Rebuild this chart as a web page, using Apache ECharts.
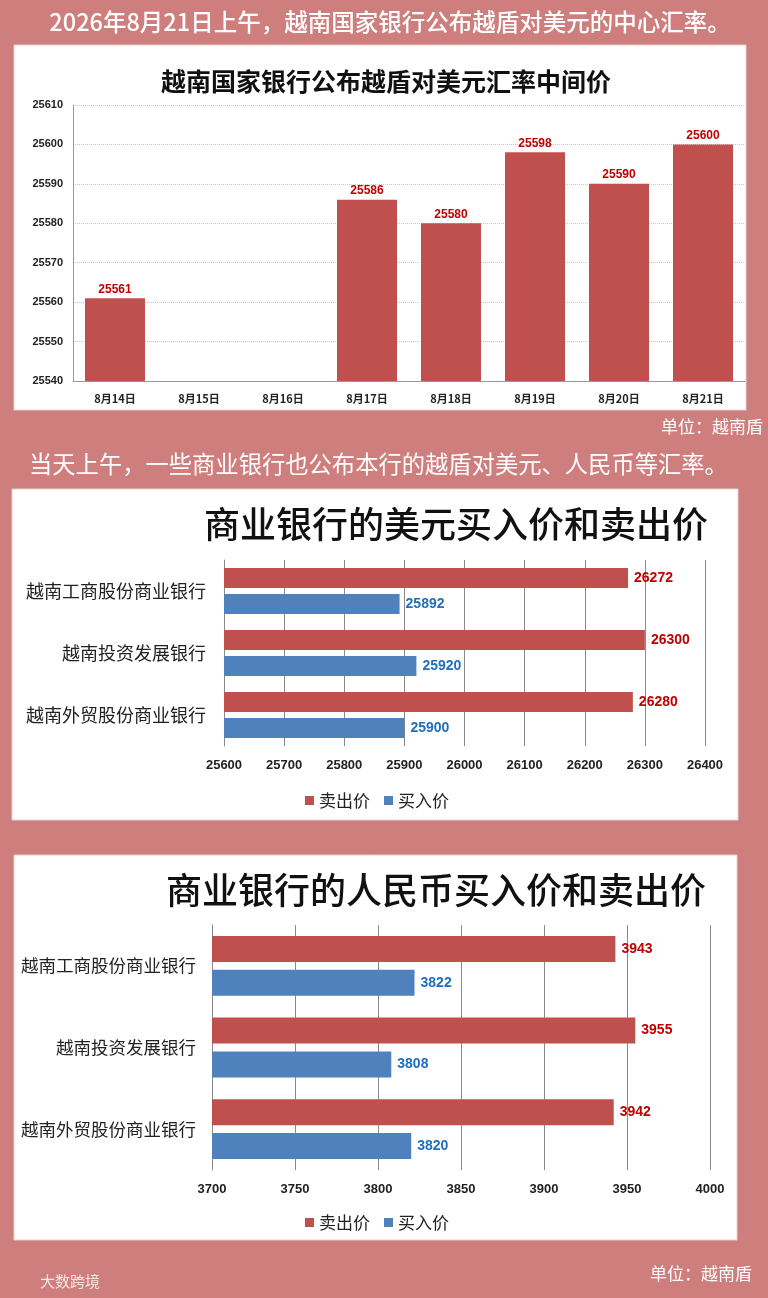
<!DOCTYPE html>
<html>
<head>
<meta charset="utf-8">
<script src="https://cdn.jsdelivr.net/npm/echarts@6/dist/echarts.min.js"></script>
<style>
  html, body { margin: 0; padding: 0; background: #cf7e7e; }
  #main { width: 768px; height: 1298px; }
</style>
</head>
<body>
<div id="main"></div>
<script>
// 越南国家银行 中间价
var days = ['8月14日', '8月15日', '8月16日', '8月17日', '8月18日', '8月19日', '8月20日', '8月21日'];
var midRate = [25561, '-', '-', 25586, 25580, 25598, 25590, 25600];

// 商业银行
var banks = ['越南工商股份商业银行', '越南投资发展银行', '越南外贸股份商业银行'];
var usdSell = [26272, 26300, 26280];
var usdBuy = [25892, 25920, 25900];
var cnySell = [3943, 3955, 3942];
var cnyBuy = [3822, 3808, 3820];

var RED = '#c0504d', BLUE = '#4f81bd';
var CJK = '"Noto Sans CJK SC", sans-serif';
var NUM = '"Liberation Sans Narrow", "Liberation Sans", sans-serif';

var dom = document.getElementById('main');
var myChart = echarts.init(dom);

function panel(x, y, w, h) {
    return {
        type: 'rect', z: -10,
        shape: { x: x, y: y, width: w, height: h },
        style: { fill: '#fff', stroke: '#e8d0d0', lineWidth: 1 }
    };
}
function txt(x, y, s, size, color, align, weight) {
    return {
        type: 'text', z: 10, x: x, y: y,
        style: {
            text: s, fill: color, font: (weight || 'normal') + ' ' + size + 'px ' + CJK,
            textAlign: align || 'left', textVerticalAlign: 'middle'
        }
    };
}
function plain(v) { return String(v); }

function barLabel(color) {
    return {
        show: true, position: 'right', distance: 6,
        color: color, fontFamily: NUM, fontWeight: 'bold', fontSize: 14
    };
}

var option = {
    animation: false,
    graphic: [
        panel(14, 45, 732, 365),
        panel(12, 489, 726, 331),
        panel(14, 855, 723, 385),
        txt(390, 22, '2026年8月21日上午，越南国家银行公布越盾对美元的中心汇率。', 23.5, '#fff', 'center', '500'),
        txt(386, 81, '越南国家银行公布越盾对美元汇率中间价', 25, '#111', 'center', 'bold'),
        txt(763, 427, '单位：越南盾', 17, '#fff', 'right'),
        txt(29, 464, '当天上午，一些商业银行也公布本行的越盾对美元、人民币等汇率。', 23.3, '#fff', 'left'),
        txt(456, 524, '商业银行的美元买入价和卖出价', 36, '#111', 'center', '500'),
        txt(436, 890, '商业银行的人民币买入价和卖出价', 36, '#111', 'center', '500'),
        txt(752, 1274, '单位：越南盾', 17, '#fff', 'right'),
        txt(40, 1281, '大数跨境', 15, 'rgba(255,255,255,0.8)', 'left')
    ],
    grid: [
        { left: 73, right: 23, top: 105, bottom: 1298 - 381 },
        { left: 224, right: 768 - 705, top: 560, bottom: 1298 - 746 },
        { left: 212, right: 768 - 710, top: 925, bottom: 1298 - 1170 }
    ],
    legend: [
        {
            data: ['卖出价', '买入价'], left: 300, top: 787, icon: 'rect',
            itemWidth: 9, itemHeight: 9, itemGap: 14,
            textStyle: { fontFamily: CJK, fontSize: 17, color: '#222' }
        },
        {
            data: ['卖出价', '买入价'], left: 300, top: 1209, icon: 'rect',
            itemWidth: 9, itemHeight: 9, itemGap: 14,
            textStyle: { fontFamily: CJK, fontSize: 17, color: '#222' }
        }
    ],
    xAxis: [
        {
            gridIndex: 0, type: 'category', data: days,
            axisLine: { lineStyle: { color: '#999' } },
            axisTick: { show: false },
            axisLabel: { color: '#222', fontSize: 11, fontFamily: CJK, fontWeight: 'bold', margin: 12 }
        },
        {
            gridIndex: 1, type: 'value', min: 25600, max: 26400, interval: 100,
            axisLine: { show: false }, axisTick: { show: false },
            splitLine: { lineStyle: { color: '#8a8a8a', width: 1 } },
            axisLabel: { color: '#222', fontSize: 13, fontFamily: NUM, fontWeight: 'bold', margin: 13, formatter: plain }
        },
        {
            gridIndex: 2, type: 'value', min: 3700, max: 4000, interval: 50,
            axisLine: { show: false }, axisTick: { show: false },
            splitLine: { lineStyle: { color: '#8a8a8a', width: 1 } },
            axisLabel: { color: '#222', fontSize: 13, fontFamily: NUM, fontWeight: 'bold', margin: 13, formatter: plain }
        }
    ],
    yAxis: [
        {
            gridIndex: 0, type: 'value', min: 25540, max: 25610, interval: 10,
            axisLine: { show: true, lineStyle: { color: '#999' } },
            axisTick: { show: false },
            splitLine: { lineStyle: { color: '#c8c8c8', type: 'dotted' } },
            axisLabel: { color: '#222', fontSize: 11, fontFamily: NUM, fontWeight: 'bold', margin: 10, formatter: plain }
        },
        {
            gridIndex: 1, type: 'category', data: banks, inverse: true,
            axisLine: { show: true, lineStyle: { color: '#8a8a8a' } },
            axisTick: { show: false },
            axisLabel: { color: '#222', fontSize: 18, fontFamily: CJK, margin: 18 }
        },
        {
            gridIndex: 2, type: 'category', data: banks, inverse: true,
            axisLine: { show: true, lineStyle: { color: '#8a8a8a' } },
            axisTick: { show: false },
            axisLabel: { color: '#222', fontSize: 17.5, fontFamily: CJK, margin: 16 }
        }
    ],
    series: [
        {
            name: '中间价', type: 'bar', xAxisIndex: 0, yAxisIndex: 0,
            data: midRate, barWidth: 60,
            itemStyle: { color: RED },
            label: { show: true, position: 'top', distance: 3, color: '#c00000', fontFamily: NUM, fontWeight: 'bold', fontSize: 12 }
        },
        {
            name: '卖出价', type: 'bar', xAxisIndex: 1, yAxisIndex: 1,
            data: usdSell, barWidth: 20, barGap: '30%',
            itemStyle: { color: RED }, label: barLabel('#c00000')
        },
        {
            name: '买入价', type: 'bar', xAxisIndex: 1, yAxisIndex: 1,
            data: usdBuy, barWidth: 20, barGap: '30%',
            itemStyle: { color: BLUE }, label: barLabel('#1f6fbf')
        },
        {
            name: '卖出价', type: 'bar', xAxisIndex: 2, yAxisIndex: 2,
            data: cnySell, barWidth: 26, barGap: '30%',
            itemStyle: { color: RED }, label: barLabel('#c00000')
        },
        {
            name: '买入价', type: 'bar', xAxisIndex: 2, yAxisIndex: 2,
            data: cnyBuy, barWidth: 26, barGap: '30%',
            itemStyle: { color: BLUE }, label: barLabel('#1f6fbf')
        }
    ]
};

if (option && typeof option === 'object') {
    myChart.setOption(option, true);
}
</script>
</body>
</html>
